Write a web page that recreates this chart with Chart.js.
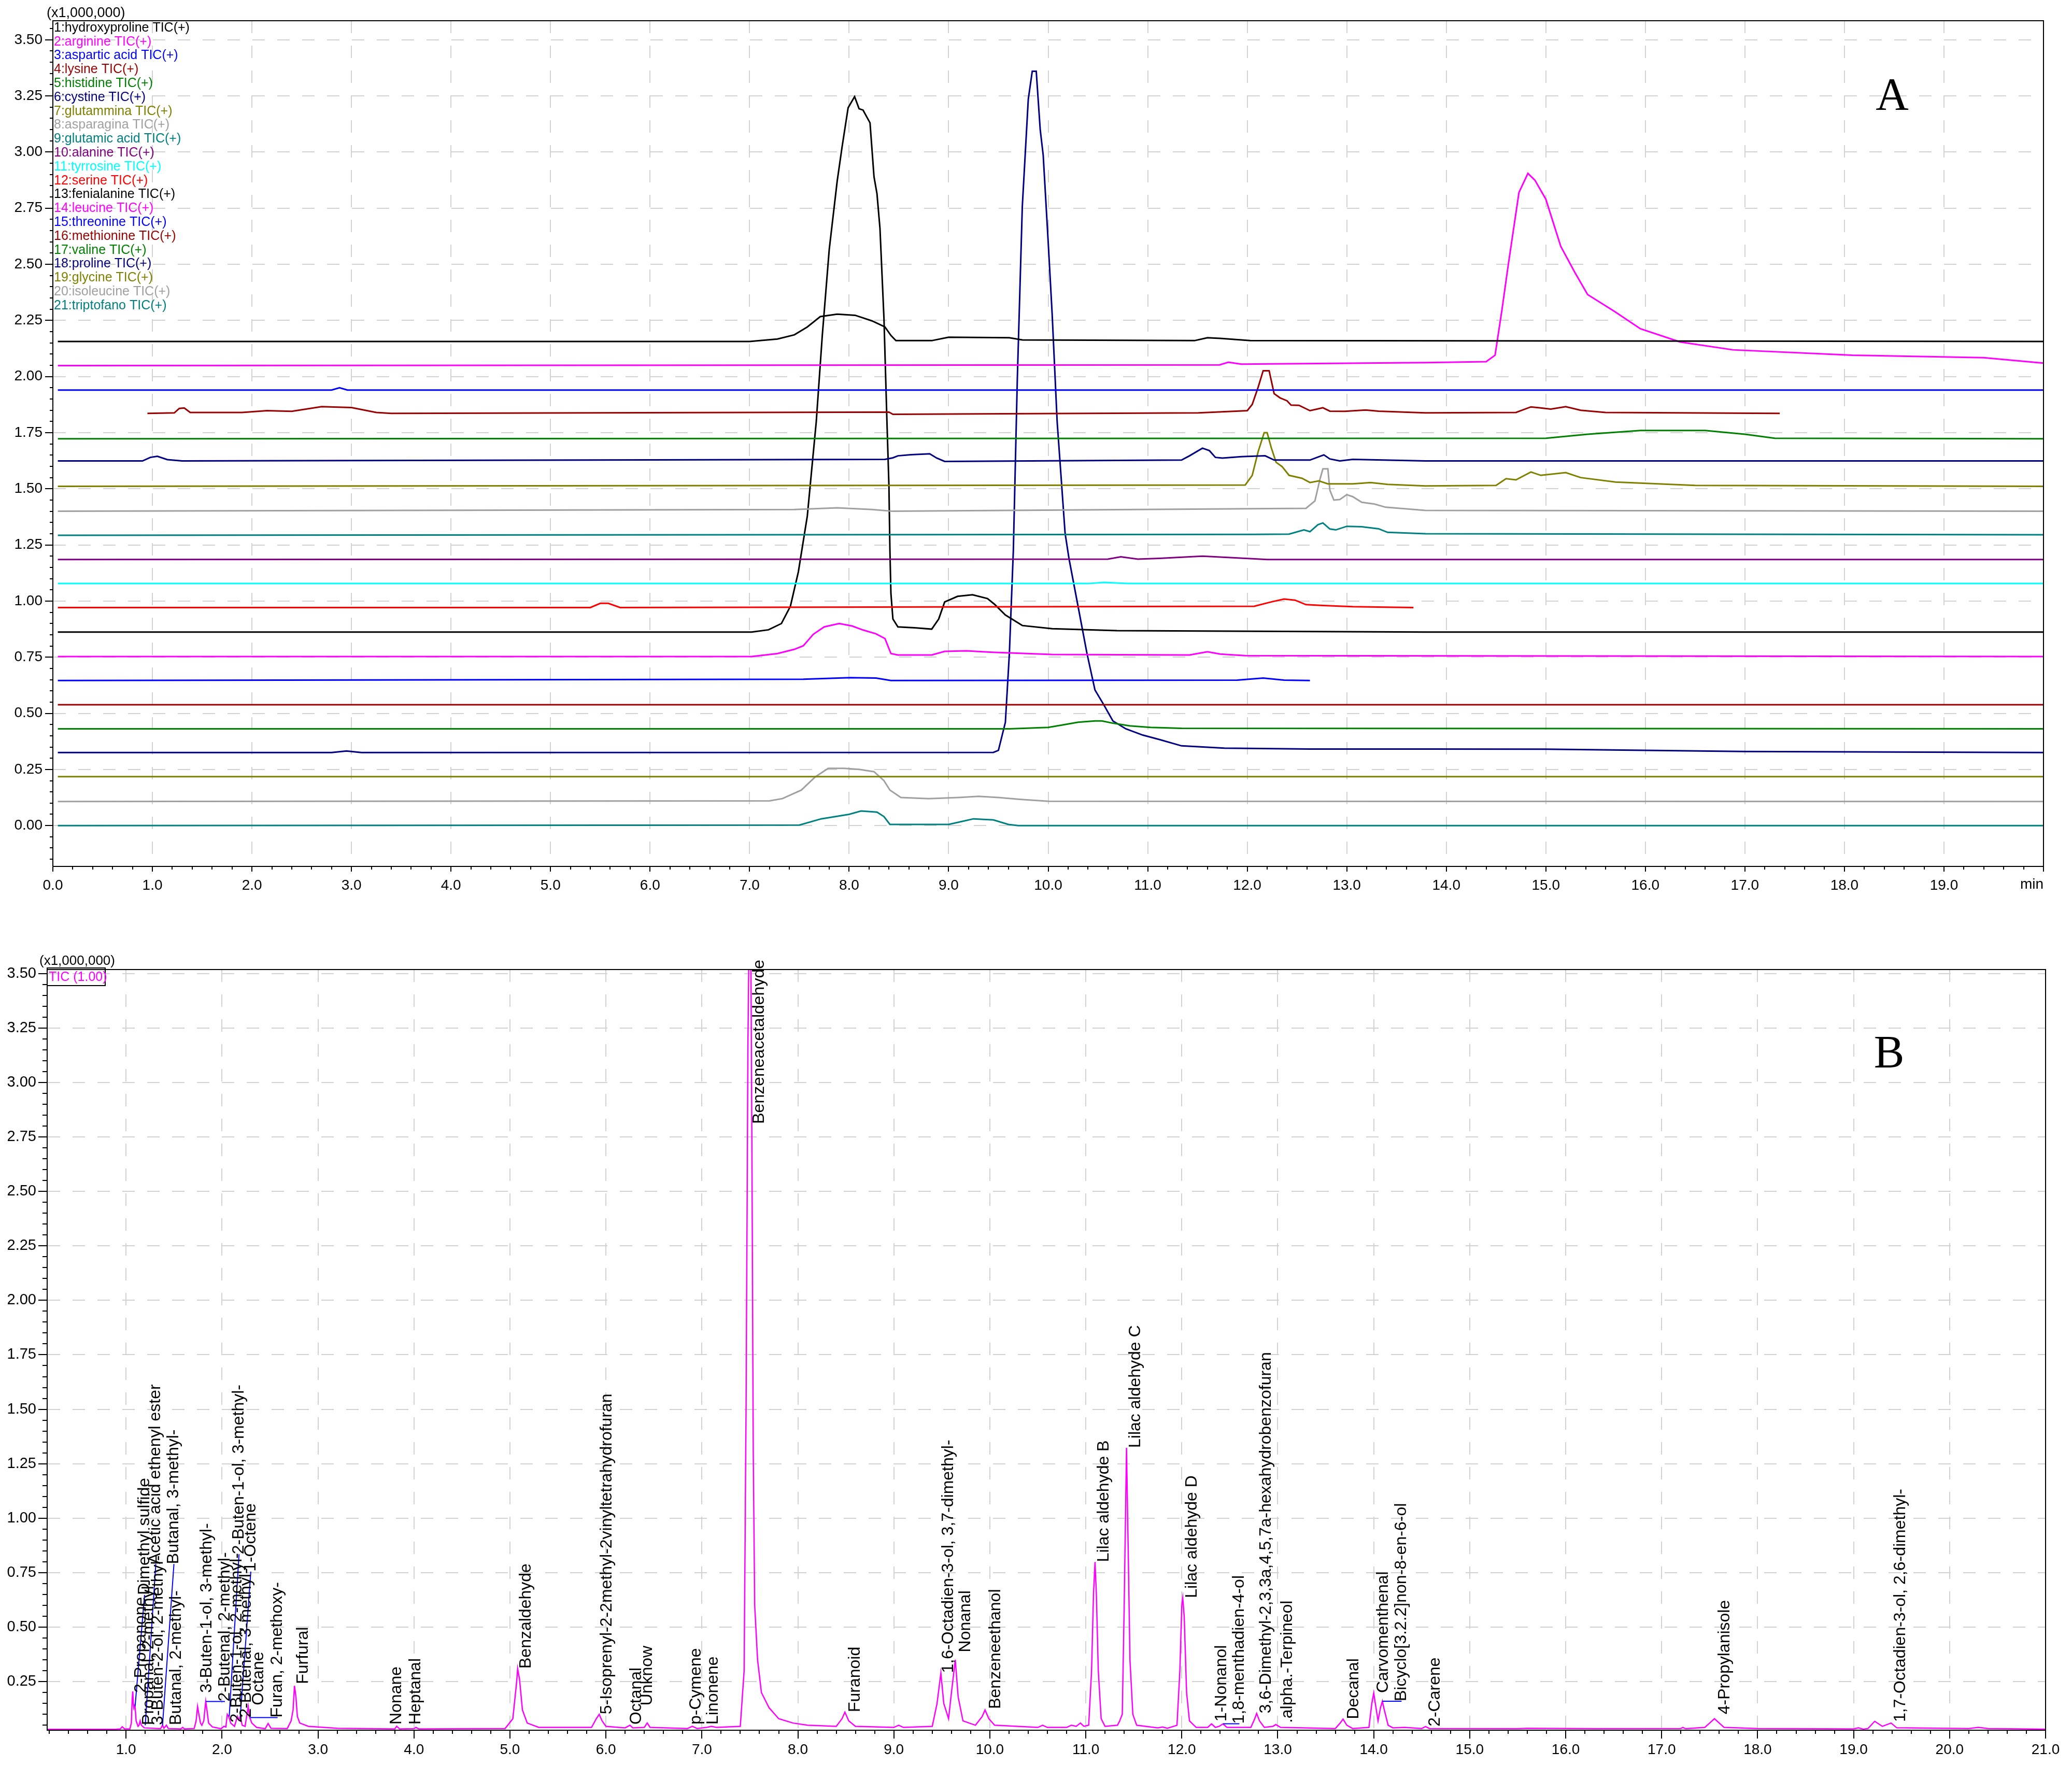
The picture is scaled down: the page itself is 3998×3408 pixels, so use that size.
<!DOCTYPE html>
<html>
<head>
<meta charset="utf-8">
<script src="https://cdn.jsdelivr.net/npm/chart.js@4.4.1/dist/chart.umd.min.js"></script>
<style>
  body { margin: 0; background: #fff; }
  canvas { position: absolute; left: 0; }
  #chartA { top: 0; }
  #chartB { top: 1790px; }
</style>
</head>
<body>
<canvas id="chartA" width="3998" height="1790"></canvas>
<canvas id="chartB" width="3998" height="1618"></canvas>
<script>
// --- DATA: PANEL A (21 amino acid TIC traces, stacked with offsets) ---
// each trace: [retention time (min), intensity (x1,000,000)]
const traceNamesA = [
  "1:hydroxyproline TIC(+)", "2:arginine TIC(+)", "3:aspartic acid TIC(+)", "4:lysine TIC(+)",
  "5:histidine TIC(+)", "6:cystine TIC(+)", "7:glutammina TIC(+)", "8:asparagina TIC(+)",
  "9:glutamic acid TIC(+)", "10:alanine TIC(+)", "11:tyrrosine TIC(+)", "12:serine TIC(+)",
  "13:fenialanine TIC(+)", "14:leucine TIC(+)", "15:threonine TIC(+)", "16:methionine TIC(+)",
  "17:valine TIC(+)", "18:proline TIC(+)", "19:glycine TIC(+)", "20:isoleucine TIC(+)",
  "21:triptofano TIC(+)"
];

const hydroxyproline = [[0.05,2.156],[7.0,2.156],[7.28,2.167],[7.45,2.186],[7.58,2.221],[7.71,2.267],[7.88,2.278],[8.06,2.273],[8.23,2.248],[8.36,2.221],[8.42,2.183],[8.47,2.16],[8.83,2.16],[9.0,2.175],[9.61,2.173],[9.74,2.163],[11.47,2.16],[11.6,2.173],[11.73,2.17],[12.03,2.16],[20.0,2.156]];
const arginine = [[0.05,2.049],[11.72,2.052],[11.81,2.064],[11.94,2.055],[13.79,2.062],[14.4,2.066],[14.49,2.095],[14.56,2.3],[14.62,2.49],[14.73,2.82],[14.82,2.905],[14.89,2.875],[15.0,2.79],[15.15,2.58],[15.29,2.465],[15.42,2.365],[15.69,2.29],[15.95,2.213],[16.35,2.154],[16.88,2.119],[18.08,2.095],[19.4,2.084],[20.0,2.06]];
const asparticAcid = [[0.05,1.94],[2.8,1.94],[2.88,1.95],[2.96,1.94],[20.0,1.94]];
const lysine = [[0.95,1.836],[1.22,1.838],[1.27,1.858],[1.32,1.86],[1.38,1.84],[1.9,1.84],[2.15,1.848],[2.4,1.845],[2.7,1.866],[3.0,1.862],[3.25,1.84],[3.4,1.836],[8.4,1.842],[8.44,1.832],[11.51,1.838],[12.0,1.848],[12.05,1.876],[12.11,1.953],[12.16,2.026],[12.22,2.026],[12.27,1.924],[12.33,1.905],[12.4,1.892],[12.44,1.873],[12.52,1.872],[12.63,1.848],[12.7,1.855],[12.76,1.861],[12.83,1.846],[12.98,1.845],[13.19,1.851],[13.32,1.846],[13.79,1.838],[14.7,1.84],[14.85,1.865],[14.95,1.86],[15.05,1.855],[15.2,1.866],[15.35,1.85],[15.6,1.84],[17.35,1.836]];
const histidine = [[0.05,1.723],[15.0,1.725],[15.42,1.743],[15.95,1.76],[16.6,1.76],[17.0,1.743],[17.3,1.725],[20.0,1.723]];
const cystine = [[0.05,1.624],[0.9,1.624],[0.98,1.64],[1.05,1.645],[1.15,1.63],[1.3,1.624],[8.36,1.631],[8.44,1.638],[8.49,1.647],[8.62,1.652],[8.81,1.656],[8.88,1.637],[8.96,1.622],[11.34,1.628],[11.42,1.647],[11.55,1.681],[11.62,1.67],[11.68,1.64],[11.75,1.637],[11.94,1.643],[12.18,1.647],[12.27,1.628],[12.63,1.628],[12.72,1.643],[12.77,1.651],[12.83,1.633],[12.93,1.624],[13.06,1.631],[13.79,1.624],[20.0,1.624]];
const glutammina = [[0.05,1.511],[11.98,1.517],[12.05,1.56],[12.11,1.666],[12.17,1.75],[12.2,1.75],[12.24,1.685],[12.29,1.618],[12.35,1.599],[12.42,1.56],[12.55,1.547],[12.63,1.528],[12.72,1.535],[12.81,1.522],[13.06,1.522],[13.24,1.528],[13.41,1.52],[13.79,1.513],[14.5,1.515],[14.6,1.545],[14.7,1.54],[14.85,1.575],[14.95,1.56],[15.2,1.572],[15.35,1.55],[15.7,1.53],[16.5,1.515],[20.0,1.511]];
const asparagina = [[0.05,1.4],[7.45,1.408],[7.88,1.415],[8.23,1.408],[8.44,1.4],[12.59,1.413],[12.68,1.446],[12.73,1.542],[12.76,1.589],[12.81,1.589],[12.83,1.494],[12.87,1.45],[12.93,1.452],[13.0,1.474],[13.06,1.465],[13.15,1.44],[13.28,1.432],[13.39,1.418],[13.79,1.404],[20.0,1.4]];
const glutamicAcid = [[0.05,1.293],[12.07,1.297],[12.42,1.298],[12.57,1.317],[12.63,1.309],[12.71,1.34],[12.76,1.348],[12.83,1.321],[12.89,1.317],[13.0,1.333],[13.15,1.331],[13.32,1.322],[13.41,1.306],[13.79,1.3],[20.0,1.295]];
const alanine = [[0.05,1.185],[10.6,1.187],[10.73,1.197],[10.9,1.187],[11.12,1.19],[11.55,1.2],[11.98,1.19],[12.2,1.185],[20.0,1.185]];
const tyrrosine = [[0.05,1.078],[10.4,1.078],[10.56,1.083],[10.8,1.078],[20.0,1.078]];
const serine = [[0.05,0.971],[5.4,0.971],[5.5,0.99],[5.58,0.99],[5.7,0.971],[12.07,0.977],[12.24,0.996],[12.37,1.009],[12.48,1.004],[12.59,0.984],[12.76,0.98],[13.06,0.975],[13.67,0.971]];
const fenialanine = [[0.05,0.862],[7.02,0.862],[7.19,0.872],[7.32,0.9],[7.41,0.977],[7.49,1.13],[7.58,1.379],[7.67,1.8],[7.73,2.18],[7.8,2.565],[7.88,2.87],[7.93,3.025],[7.99,3.197],[8.055,3.247],[8.1,3.193],[8.14,3.187],[8.21,3.13],[8.25,2.89],[8.28,2.814],[8.31,2.66],[8.35,2.26],[8.38,1.8],[8.4,1.513],[8.41,1.225],[8.42,1.034],[8.44,0.92],[8.49,0.885],[8.66,0.881],[8.83,0.875],[8.9,0.92],[8.96,0.996],[9.09,1.021],[9.24,1.028],[9.39,1.011],[9.46,0.986],[9.57,0.938],[9.74,0.891],[10.04,0.877],[10.69,0.868],[13.79,0.862],[20.0,0.862]];
const leucine = [[0.05,0.753],[7.02,0.753],[7.28,0.766],[7.45,0.785],[7.54,0.801],[7.64,0.852],[7.75,0.885],[7.9,0.9],[8.03,0.889],[8.14,0.871],[8.27,0.854],[8.36,0.833],[8.42,0.766],[8.49,0.76],[8.83,0.76],[8.96,0.776],[9.18,0.778],[9.44,0.772],[10.04,0.762],[11.42,0.76],[11.6,0.774],[11.73,0.764],[11.98,0.757],[20.0,0.753]];
const threonine = [[0.05,0.646],[7.54,0.652],[8.01,0.659],[8.27,0.657],[8.42,0.646],[11.9,0.648],[12.16,0.657],[12.37,0.648],[12.63,0.646]];
const methionine = [[0.05,0.538],[20.0,0.538]];
const valine = [[0.05,0.431],[9.61,0.431],[10.0,0.437],[10.13,0.447],[10.3,0.46],[10.47,0.466],[10.54,0.466],[10.65,0.456],[10.82,0.444],[11.03,0.437],[11.34,0.433],[20.0,0.431]];
const proline = [[0.05,0.325],[2.8,0.325],[2.95,0.332],[3.1,0.325],[9.45,0.326],[9.5,0.335],[9.57,0.46],[9.61,0.766],[9.65,1.225],[9.69,1.99],[9.74,2.757],[9.8,3.235],[9.84,3.36],[9.88,3.36],[9.92,3.1],[9.95,2.986],[10.0,2.6],[10.04,2.278],[10.09,1.8],[10.17,1.302],[10.21,1.187],[10.3,0.977],[10.39,0.766],[10.47,0.604],[10.56,0.537],[10.65,0.466],[10.78,0.431],[10.95,0.403],[11.12,0.383],[11.34,0.355],[11.77,0.345],[12.63,0.341],[13.79,0.341],[15.0,0.34],[16.0,0.335],[17.0,0.33],[20.0,0.325]];
const glycine = [[0.05,0.218],[20.0,0.218]];
const isoleucine = [[0.05,0.107],[7.2,0.11],[7.33,0.12],[7.52,0.158],[7.66,0.217],[7.79,0.255],[7.95,0.255],[8.1,0.25],[8.25,0.24],[8.35,0.2],[8.41,0.158],[8.52,0.125],[8.8,0.12],[9.1,0.125],[9.3,0.13],[9.5,0.125],[9.71,0.117],[10.0,0.108],[20.0,0.107]];
const triptofano = [[0.05,0.0],[7.5,0.002],[7.72,0.03],[8.0,0.05],[8.12,0.065],[8.28,0.06],[8.35,0.04],[8.41,0.005],[9.0,0.005],[9.15,0.02],[9.25,0.03],[9.45,0.025],[9.6,0.005],[9.7,0.0],[20.0,0.0]];

const tracesA = [hydroxyproline, arginine, asparticAcid, lysine, histidine, cystine, glutammina,
  asparagina, glutamicAcid, alanine, tyrrosine, serine, fenialanine, leucine, threonine,
  methionine, valine, proline, glycine, isoleucine, triptofano];

const xTicksA = [0, 1, 2, 3, 4, 5, 6, 7, 8, 9, 10, 11, 12, 13, 14, 15, 16, 17, 18, 19, 20];
const yTicksA = [0, 0.25, 0.5, 0.75, 1.0, 1.25, 1.5, 1.75, 2.0, 2.25, 2.5, 2.75, 3.0, 3.25, 3.5];

// --- DATA: PANEL B (volatile TIC with peak names) ---
const ticB = [[0.18,0.031],[0.9,0.032],[0.94,0.033],[0.96,0.043],[0.985,0.033],[1.04,0.033],[1.055,0.06],[1.064,0.17],[1.07,0.205],[1.076,0.15],[1.082,0.13],[1.088,0.14],[1.094,0.135],[1.105,0.07],[1.125,0.045],[1.135,0.05],[1.147,0.07],[1.16,0.05],[1.19,0.038],[1.36,0.034],[1.38,0.05],[1.395,0.036],[1.42,0.05],[1.44,0.035],[1.57,0.033],[1.59,0.04],[1.61,0.033],[1.71,0.035],[1.73,0.07],[1.745,0.136],[1.755,0.11],[1.775,0.06],[1.79,0.05],[1.81,0.07],[1.83,0.159],[1.84,0.13],[1.86,0.06],[1.9,0.042],[1.99,0.034],[2.02,0.045],[2.04,0.042],[2.055,0.1],[2.07,0.09],[2.09,0.06],[2.13,0.045],[2.16,0.09],[2.175,0.075],[2.19,0.09],[2.21,0.05],[2.24,0.045],[2.26,0.1],[2.273,0.136],[2.285,0.09],[2.31,0.06],[2.36,0.04],[2.45,0.034],[2.48,0.058],[2.51,0.036],[2.68,0.035],[2.72,0.07],[2.74,0.12],[2.755,0.231],[2.77,0.18],[2.785,0.09],[2.81,0.06],[2.9,0.045],[3.2,0.036],[3.8,0.033],[3.82,0.045],[3.85,0.033],[4.0,0.034],[4.02,0.04],[4.05,0.033],[4.95,0.035],[5.03,0.08],[5.07,0.25],[5.08,0.31],[5.1,0.26],[5.13,0.12],[5.18,0.06],[5.3,0.04],[5.85,0.04],[5.9,0.08],[5.93,0.1],[5.96,0.07],[6.0,0.045],[6.2,0.038],[6.25,0.05],[6.28,0.038],[6.4,0.04],[6.43,0.06],[6.46,0.04],[6.85,0.035],[6.9,0.045],[6.95,0.035],[7.05,0.04],[7.1,0.045],[7.15,0.04],[7.4,0.045],[7.44,0.3],[7.46,1.5],[7.48,3.2],[7.49,3.6],[7.51,3.6],[7.52,2.8],[7.535,1.3],[7.55,0.6],[7.58,0.35],[7.62,0.2],[7.7,0.13],[7.8,0.08],[7.95,0.06],[8.1,0.05],[8.4,0.045],[8.46,0.08],[8.49,0.11],[8.53,0.07],[8.6,0.045],[9.0,0.04],[9.05,0.05],[9.1,0.04],[9.4,0.045],[9.45,0.15],[9.49,0.29],[9.52,0.15],[9.57,0.08],[9.6,0.2],[9.64,0.35],[9.67,0.18],[9.72,0.07],[9.85,0.05],[9.92,0.09],[9.95,0.12],[9.99,0.08],[10.05,0.05],[10.5,0.04],[10.55,0.05],[10.6,0.04],[10.8,0.04],[10.85,0.05],[10.9,0.045],[10.944,0.06],[10.98,0.045],[11.03,0.05],[11.06,0.3],[11.08,0.65],[11.096,0.799],[11.11,0.65],[11.13,0.3],[11.16,0.08],[11.2,0.045],[11.33,0.05],[11.35,0.067],[11.38,0.1],[11.4,0.6],[11.424,1.323],[11.44,0.9],[11.46,0.35],[11.49,0.1],[11.53,0.05],[11.75,0.038],[11.8,0.042],[11.85,0.036],[11.95,0.05],[11.98,0.3],[12.0,0.6],[12.01,0.634],[12.025,0.55],[12.05,0.2],[12.08,0.07],[12.15,0.04],[12.27,0.04],[12.31,0.056],[12.35,0.04],[12.39,0.045],[12.43,0.056],[12.47,0.04],[12.72,0.04],[12.76,0.08],[12.78,0.104],[12.81,0.07],[12.86,0.04],[12.95,0.045],[12.98,0.053],[13.03,0.04],[13.6,0.035],[13.65,0.06],[13.68,0.078],[13.72,0.05],[13.78,0.035],[13.95,0.04],[13.98,0.15],[14.0,0.198],[14.02,0.14],[14.045,0.07],[14.07,0.13],[14.09,0.16],[14.11,0.12],[14.15,0.05],[14.2,0.038],[14.32,0.04],[14.5,0.035],[14.54,0.044],[14.58,0.035],[15.5,0.034],[15.6,0.036],[16.3,0.034],[17.2,0.035],[17.22,0.04],[17.25,0.034],[17.45,0.04],[17.5,0.06],[17.55,0.08],[17.6,0.06],[17.65,0.04],[18.0,0.035],[19.0,0.033],[19.05,0.038],[19.1,0.032],[19.15,0.035],[19.22,0.068],[19.3,0.045],[19.39,0.06],[19.45,0.038],[20.2,0.035],[20.3,0.04],[20.4,0.035],[21.0,0.032]];

const peakNames = [
  "2-Propanone", "Dimethyl sulfide", "Propanal, 2-methyl-", "3-Buten-2-ol, 2-methyl-",
  "Acetic acid ethenyl ester", "Butanal, 3-methyl-", "Butanal, 2-methyl-", "3-Buten-1-ol, 3-methyl-",
  "2-Butenal, 2-methyl-", "2-Buten-1-ol, 2-methyl-", "2-Buten-1-ol, 3-methyl-", "2-Butenal, 3-methyl-",
  "1-Octene", "Octane", "Furan, 2-methoxy-", "Furfural", "Nonane", "Heptanal", "Benzaldehyde",
  "5-Isoprenyl-2-2methyl-2vinyltetrahydrofuran", "Octanal", "Unknow", "p-Cymene", "Linonene",
  "Benzeneacetaldehyde", "Furanoid", "1,6-Octadien-3-ol, 3,7-dimethyl-", "Nonanal", "Benzeneethanol",
  "Lilac aldehyde B", "Lilac aldehyde C", "Lilac aldehyde D", "1-Nonanol", "1,8-menthadien-4-ol",
  "3,6-Dimethyl-2,3,3a,4,5,7a-hexahydrobenzofuran", ".alpha.-Terpineol", "Decanal", "Carvomenthenal",
  "Bicyclo[3.2.2]non-8-en-6-ol", "2-Carene", "4-Propylanisole", "1,7-Octadien-3-ol, 2,6-dimethyl-"
];
// where each name starts: retention time and intensity
const labelRT = [1.157, 1.193, 1.238, 1.337, 1.31, 1.499, 1.526, 1.84, 2.03, 2.156, 2.177, 2.255,
  2.30, 2.38, 2.579, 2.849, 3.82, 4.02, 5.17, 6.01, 6.32, 6.43, 6.94, 7.12, 7.60, 8.6, 9.57, 9.75,
  10.06, 11.19, 11.517, 12.105, 12.415, 12.60, 12.88, 13.10, 13.79, 14.10, 14.29, 14.64, 17.66, 19.49];
const labelBase = [0.199, 0.648, 0.051, 0.051, 0.79, 0.79, 0.051, 0.199, 0.159, 0.062, 0.835, 0.085,
  0.755, 0.142, 0.085, 0.239, 0.053, 0.053, 0.31, 0.1, 0.053, 0.14, 0.053, 0.053, 2.81, 0.11, 0.29,
  0.385, 0.125, 0.799, 1.323, 0.634, 0.067, 0.057, 0.104, 0.06, 0.078, 0.198, 0.16, 0.044, 0.1, 0.065];
// leader lines from the peak apex (null = label sits on its peak)
const leaderRT = [null, 1.094, null, null, 1.20, 1.38, null, null, 1.83, null, 2.075, null,
  2.19, null, 2.29, null, null, null, null, null, null, null, null, null, null, null, null,
  null, null, null, null, null, null, 12.43, null, null, null, null, 14.09, null, null, null];
const leaderI = [null, 0.136, null, null, 0.05, 0.05, null, null, 0.159, null, 0.09, null,
  0.09, null, 0.085, null, null, null, null, null, null, null, null, null, null, null, null,
  null, null, null, null, null, null, 0.057, null, null, null, null, 0.16, null, null, null];

const xTicksB = [1, 2, 3, 4, 5, 6, 7, 8, 9, 10, 11, 12, 13, 14, 15, 16, 17, 18, 19, 20, 21];
const yTicksB = [0.25, 0.5, 0.75, 1.0, 1.25, 1.5, 1.75, 2.0, 2.25, 2.5, 2.75, 3.0, 3.25, 3.5];

// --- STYLE ---
const traceColorsA = ['#000000', '#ff00ff', '#0000ff', '#990000', '#008000', '#000080', '#808000',
  '#a0a0a0', '#008080', '#800080', '#00ffff', '#ff0000', '#000000', '#ff00ff', '#0000ff', '#990000',
  '#008000', '#000080', '#808000', '#a0a0a0', '#008080'];
const NARROW = "'Liberation Sans Narrow', 'Arial Narrow', 'Liberation Sans', Arial, sans-serif";
const SANS = "'Liberation Sans', Arial, sans-serif";
const GRID = '#d2d2d2';

const toXY = pts => pts.map(p => ({ x: p[0], y: p[1] }));

// --- PLUGINS ---
// short minor ticks, the closed frame and the little texts around it
const chromFrame = {
  id: 'chromFrame',
  afterDraw(chart, args, o) {
    const { ctx, chartArea: a, scales: { x, y } } = chart;
    ctx.save();
    ctx.strokeStyle = '#000';
    ctx.lineWidth = 2;
    ctx.beginPath();
    for (let k = Math.ceil(x.min / o.xStep - 1e-6); k * o.xStep <= x.max + 1e-6; k++) {
      if (k % o.xEvery === 0) continue;
      const px = Math.round(x.getPixelForValue(k * o.xStep));
      ctx.moveTo(px, a.bottom); ctx.lineTo(px, a.bottom + o.xLen);
    }
    for (let k = Math.ceil(y.min / o.yStep - 1e-6); k * o.yStep <= y.max + 1e-6; k++) {
      if (k % o.yEvery === 0) continue;
      const py = Math.round(y.getPixelForValue(k * o.yStep));
      ctx.moveTo(a.left - o.yLen, py); ctx.lineTo(a.left, py);
    }
    ctx.stroke();
    ctx.strokeRect(a.left, a.top, a.width, a.height);

    ctx.fillStyle = '#000';
    ctx.textBaseline = 'middle';

    // axis unit written at the end of the time axis
    if (o.endLabel) {
      ctx.font = o.endFont;
      ctx.textAlign = 'right';
      ctx.fillText(o.endLabel, x.getPixelForValue(x.max), a.bottom + o.endDy);
    }

    // multiplier
    ctx.font = o.unitFont;
    ctx.textAlign = 'left';
    ctx.fillText('(x1,000,000)', a.left + o.unitDx, a.top + o.unitDy);

    // panel letter
    ctx.font = "88px 'Liberation Serif', 'Times New Roman', serif";
    ctx.textAlign = 'center';
    ctx.textBaseline = 'alphabetic';
    ctx.fillText(o.letter, x.getPixelForValue(o.letterAt[0]), y.getPixelForValue(o.letterAt[1]));
    ctx.restore();
  }
};

// coloured trace names, top left inside panel A
const traceLegend = {
  id: 'traceLegend',
  afterDraw(chart, args, o) {
    if (!o.show) return;
    const { ctx, chartArea: a } = chart;
    ctx.save();
    ctx.font = '25px ' + SANS;
    ctx.textAlign = 'left';
    ctx.textBaseline = 'middle';
    chart.data.datasets.forEach((ds, i) => {
      ctx.fillStyle = ds.borderColor;
      ctx.fillText(ds.label, a.left + 2, a.top + 14 + i * 26.8);
    });
    ctx.restore();
  }
};

// vertical peak names and blue leader lines for panel B
const peakNamesPlugin = {
  id: 'peakNames',
  afterDatasetsDraw(chart, args, o) {
    if (!o.show) return;
    const { ctx, chartArea: a, scales: { x, y } } = chart;
    ctx.save();
    ctx.strokeStyle = '#0000ff';
    ctx.lineWidth = 2;
    peakNames.forEach((name, i) => {
      if (leaderRT[i] === null) return;
      ctx.beginPath();
      ctx.moveTo(x.getPixelForValue(leaderRT[i]), y.getPixelForValue(leaderI[i]));
      ctx.lineTo(x.getPixelForValue(labelRT[i]), y.getPixelForValue(labelBase[i]));
      ctx.stroke();
    });
    ctx.fillStyle = '#000';
    ctx.font = '32px ' + SANS;
    ctx.textAlign = 'left';
    ctx.textBaseline = 'middle';
    peakNames.forEach((name, i) => {
      ctx.save();
      ctx.translate(x.getPixelForValue(labelRT[i]), y.getPixelForValue(labelBase[i]));
      ctx.rotate(-Math.PI / 2);
      ctx.fillText(name, 0, 0);
      ctx.restore();
    });

    // TIC legend box
    ctx.strokeStyle = '#000';
    ctx.strokeRect(a.left, a.top - 3, 112, 34);
    ctx.fillStyle = '#ff00ff';
    ctx.font = '25px ' + SANS;
    ctx.fillText('TIC (1.00)', a.left + 3, a.top + 15);
    ctx.restore();
  }
};

// --- CHART BUILDERS ---
function axisX(min, max, ticks, hideLast, font, tickLen, pad, height) {
  return {
    type: 'linear', min, max,
    afterBuildTicks: s => { s.ticks = ticks.map(v => ({ value: v })); },
    afterFit: s => { s.height = height; },
    ticks: {
      autoSkip: false, maxRotation: 0, color: '#000', padding: pad, font,
      callback: v => (hideLast && v === max) ? '' : v.toFixed(1)
    },
    grid: {
      color: c => (c.tick && c.tick.value > min && c.tick.value < max) ? GRID : 'rgba(0,0,0,0)',
      lineWidth: 2, tickColor: '#000', tickWidth: 2, tickLength: tickLen
    },
    border: { color: '#000', width: 2, dash: [24, 24] }
  };
}

function axisY(min, max, ticks, font, tickLen, pad, width) {
  return {
    type: 'linear', min, max,
    afterBuildTicks: s => { s.ticks = ticks.map(v => ({ value: v })); },
    afterFit: s => { s.width = width; },
    ticks: { color: '#000', padding: pad, font, callback: v => v.toFixed(2) },
    grid: { color: GRID, lineWidth: 2, tickColor: '#000', tickWidth: 2, tickLength: tickLen },
    border: { color: '#000', width: 2, dash: [24, 24] }
  };
}

// --- PANEL A ---
new Chart(document.getElementById('chartA'), {
  type: 'line',
  data: {
    datasets: tracesA.map((pts, i) => ({
      label: traceNamesA[i],
      data: toXY(pts),
      borderColor: traceColorsA[i],
      borderWidth: 3,
      pointRadius: 0,
      tension: 0
    }))
  },
  options: {
    responsive: false, animation: false, devicePixelRatio: 1,
    layout: { padding: { left: 0, right: 55, top: 40, bottom: 0 } },
    scales: {
      x: axisX(0, 20, xTicksA, true, { family: NARROW, size: 28 }, 10, 10, 118),
      y: axisY(-0.182, 3.585, yTicksA, { family: NARROW, size: 28 }, 15, 5, 102)
    },
    plugins: {
      legend: { display: false }, tooltip: { enabled: false },
      chromFrame: { xStep: 0.2, xEvery: 5, xLen: 6, yStep: 0.05, yEvery: 5, yLen: 6,
        endLabel: 'min', endFont: '28px ' + NARROW, endDy: 35,
        unitFont: '27px ' + NARROW, unitDx: -12, unitDy: -14, letter: 'A', letterAt: [18.48, 3.19] },
      traceLegend: { show: true },
      peakNames: { show: false }
    }
  },
  plugins: [chromFrame, traceLegend, peakNamesPlugin]
});

// --- PANEL B ---
new Chart(document.getElementById('chartB'), {
  type: 'line',
  data: {
    datasets: [{
      label: 'TIC (1.00)',
      data: toXY(ticB),
      borderColor: '#ff00ff',
      borderWidth: 2.5,
      pointRadius: 0,
      tension: 0
    }]
  },
  options: {
    responsive: false, animation: false, devicePixelRatio: 1,
    layout: { padding: { left: 0, right: 51, top: 81, bottom: 0 } },
    scales: {
      x: axisX(0.178, 21, xTicksB, false, { family: SANS, size: 28 }, 16, 5, 69),
      y: axisY(0.027, 3.518, yTicksB, { family: SANS, size: 29 }, 17, 4, 91)
    },
    plugins: {
      legend: { display: false }, tooltip: { enabled: false },
      chromFrame: { xStep: 0.2, xEvery: 5, xLen: 7, yStep: 0.05, yEvery: 5, yLen: 9,
        endLabel: null,
        unitFont: '26px ' + SANS, unitDx: -15, unitDy: -16, letter: 'B', letterAt: [19.37, 3.07] },
      traceLegend: { show: false },
      peakNames: { show: true }
    }
  },
  plugins: [chromFrame, traceLegend, peakNamesPlugin]
});
</script>
</body>
</html>
